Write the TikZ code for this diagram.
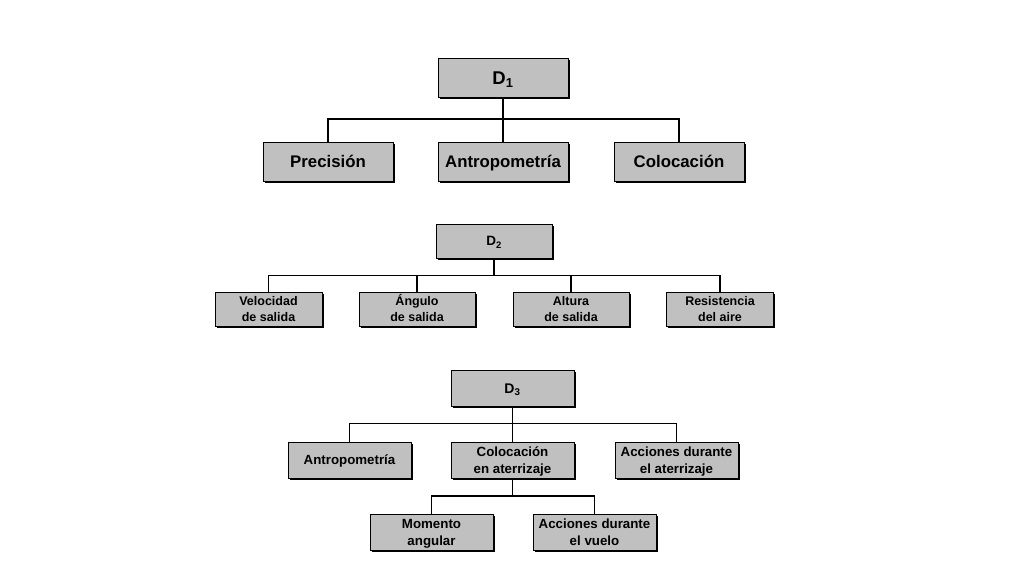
\documentclass[tikz,border=0pt]{standalone}
\usepackage{fontspec}
\setmainfont{Liberation Sans}
\usetikzlibrary{shadows}
\definecolor{boxgray}{RGB}{192,192,192}
\tikzset{
  blk/.style={draw=black, line width=0.6pt, fill=boxgray, inner sep=0pt, align=center, text depth=0pt,
    drop shadow={shadow xshift=1.6pt, shadow yshift=-1.6pt, opacity=1, fill=black}},
  blkA/.style={blk, minimum width=130pt, minimum height=39pt, text height=12.1pt,
    font=\fontsize{16.8}{20}\selectfont\bfseries},
  blkB/.style={blk, minimum width=116pt, minimum height=34pt, text height=25.5pt,
    font=\fontsize{12.5}{16.5}\selectfont\bfseries},
  blkC/.style={blk, minimum width=123pt, minimum height=36pt, text height=27.1pt,
    font=\fontsize{13.3}{17.5}\selectfont\bfseries},
  wire/.style={draw=black, line width=1.3pt}
}
\begin{document}
\begin{tikzpicture}[x=10pt,y=10pt]
\useasboundingbox (0,0) rectangle (102.4,-57.6);
% D1
\node [blkA, text height=13.3pt, font=\fontsize{18.5}{20}\selectfont\bfseries] (d1) at (50.3,-7.75) {D\textsubscript{1}};
\node [blkA] (prec) at (32.8,-16.15) {Precisión};
\node [blkA] (antro) at (50.3,-16.15) {Antropometría};
\node [blkA] (coloc) at (67.9,-16.15) {Colocación};
\coordinate (bus1) at (50.3,-11.9);
\draw [wire] (d1.south) -- (bus1);
\foreach \n in {prec,antro,coloc}
  \draw [wire] (\n.north) |- (bus1);
% D2
\node [blkB, text height=9.7pt, font=\fontsize{13.5}{16.5}\selectfont\bfseries] (d2) at (49.4,-24.1) {D\textsubscript{2}};
\node [blkB, minimum width=107pt] (vel) at (26.85,-30.9) {Velocidad\\de salida};
\node [blkB] (ang) at (41.7,-30.9) {Ángulo\\de salida};
\node [blkB] (alt) at (57.1,-30.9) {Altura\\de salida};
\node [blkB, minimum width=107pt] (res) at (72.0,-30.9) {Resistencia\\del aire};
\coordinate (bus2) at (49.4,-27.55);
\draw [wire] (d2.south) -- (bus2);
\foreach \n in {vel,ang,alt,res}
  \draw [wire] (\n.north) |- (bus2);
% D3
\node [blkC, text height=10.1pt, font=\fontsize{14}{17.5}\selectfont\bfseries] (d3) at (51.25,-38.8) {D\textsubscript{3}};
\node [blkC, text height=9.6pt] (antroc) at (34.95,-46.0) {Antropometría};
\node [blkC] (colat) at (51.25,-46.0) {Colocación\\en aterrizaje};
\node [blkC] (accat) at (67.65,-46.0) {Acciones durante\\el aterrizaje};
\coordinate (bus3) at (51.25,-42.35);
\draw [wire] (d3.south) -- (bus3);
\foreach \n in {antroc,colat,accat}
  \draw [wire] (\n.north) |- (bus3);
\node [blkC] (mom) at (43.15,-53.2) {Momento\\angular};
\node [blkC] (accvu) at (59.45,-53.2) {Acciones durante\\el vuelo};
\coordinate (bus4) at (51.25,-49.6);
\draw [wire] (colat.south) -- (bus4);
\foreach \n in {mom,accvu}
  \draw [wire] (\n.north) |- (bus4);
\end{tikzpicture}
\end{document}
